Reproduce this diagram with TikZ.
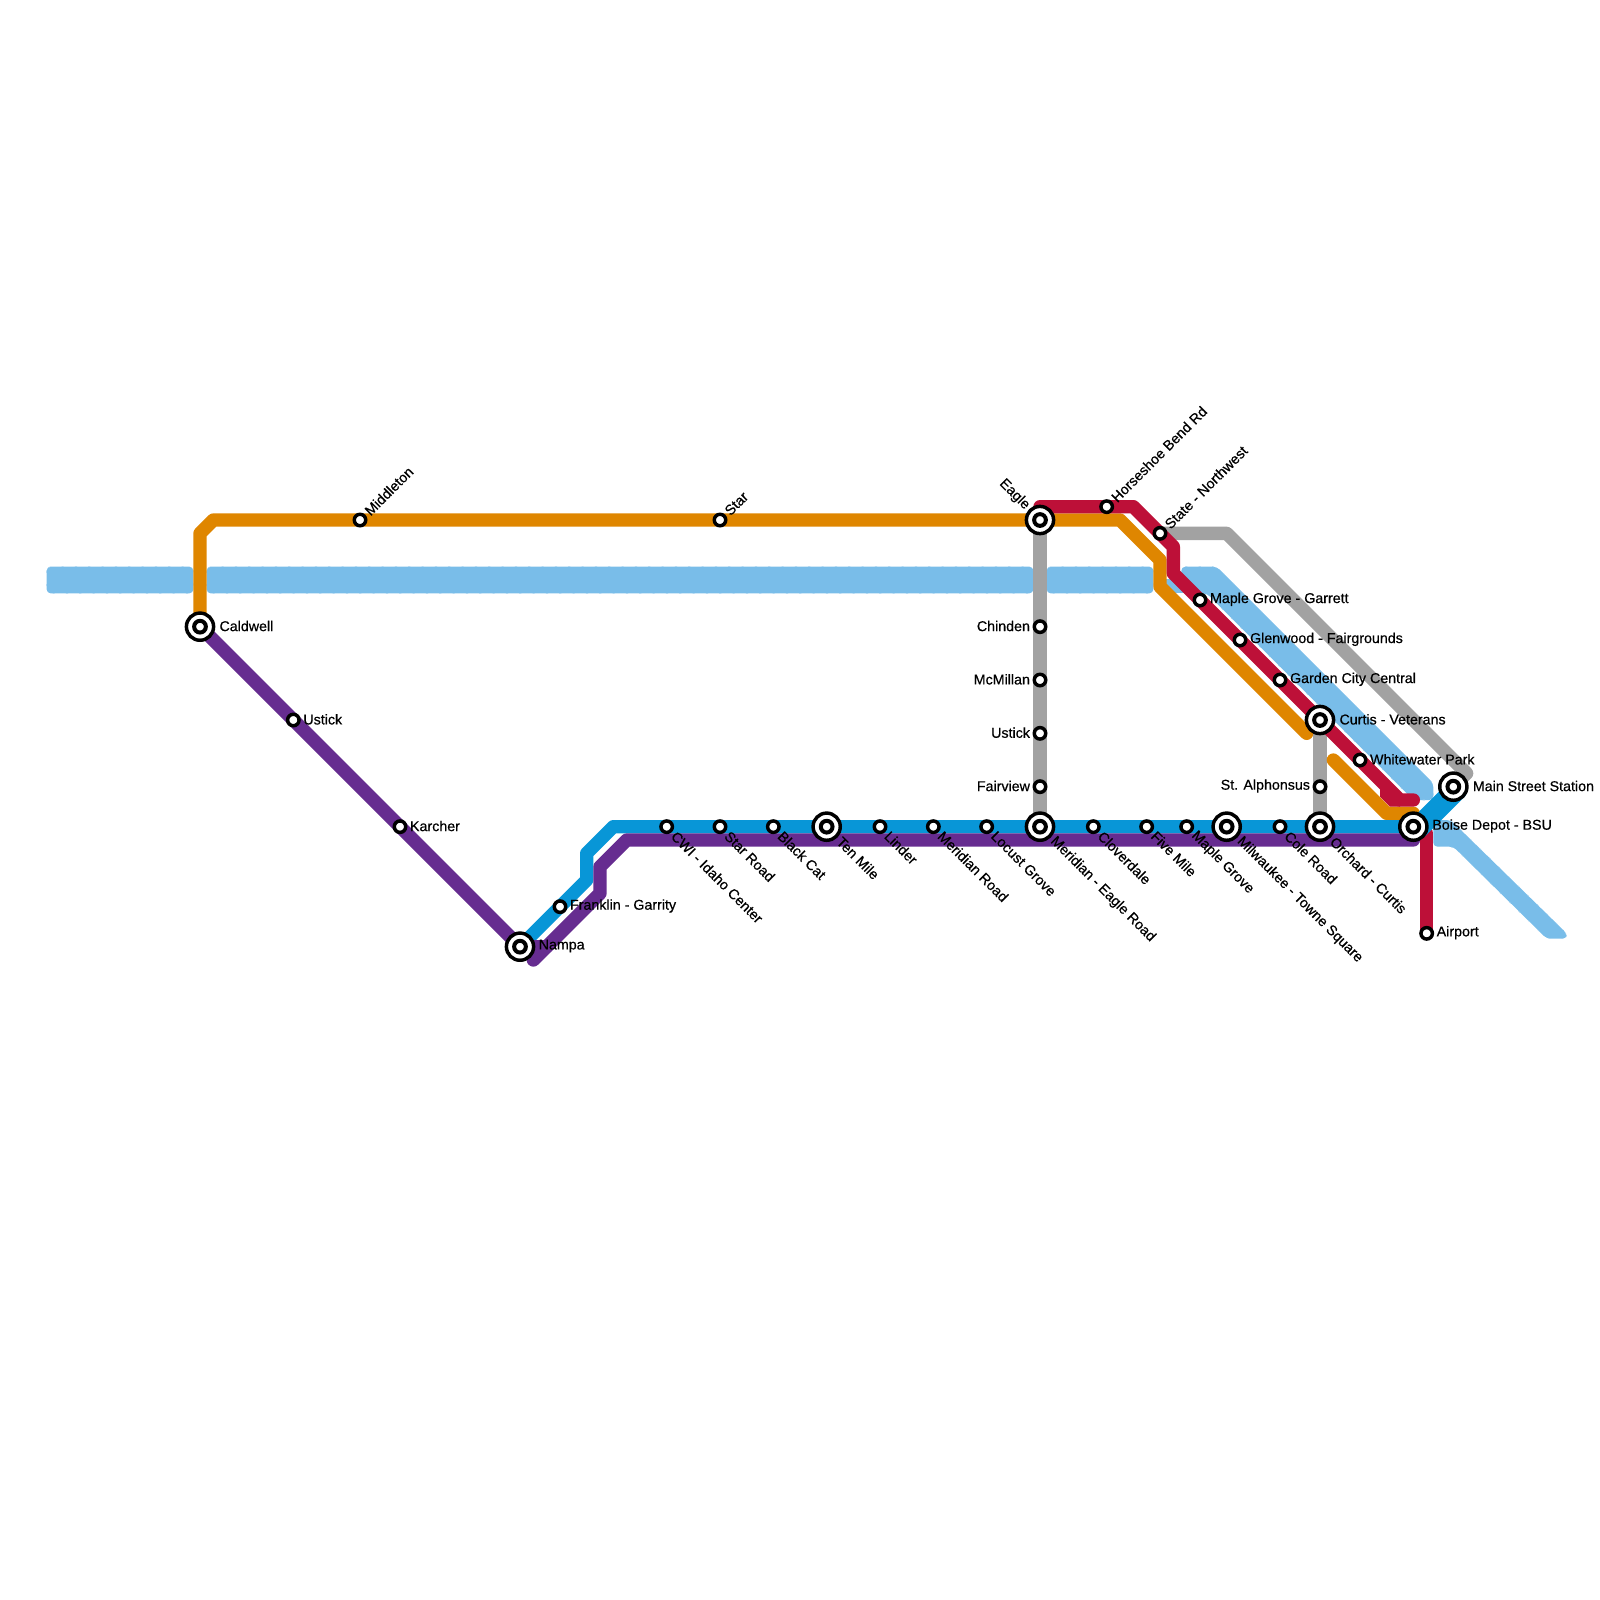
\documentclass[tikz,border=0pt]{standalone}
\usepackage{fontspec}
\newfontfamily\stnfont[FakeBold=0.5]{Liberation Sans}
\usetikzlibrary{backgrounds}
\definecolor{cblue}{HTML}{0896D7}
\definecolor{corange}{HTML}{DF8600}
\definecolor{cpurple}{HTML}{662C90}
\definecolor{cred}{HTML}{BD1038}
\definecolor{cgray}{HTML}{A2A2A2}
\definecolor{clight}{HTML}{79BDE9}
\tikzset{
  stop/.style={circle,draw=black,fill=white,line width=.13cm,minimum size=.43cm,inner sep=0pt},
  bigstop/.style={circle,draw=black,fill=white,line width=.13cm,minimum size=1.02cm,inner sep=0pt,
    path picture={\draw[black,line width=.15cm] (path picture bounding box.center) circle (.22cm);}},
  route/.style={line width=.5cm,line join=round,line cap=round},
  lightroute/.style={fill=clight,draw=clight!70!white,line width=.02cm,dash pattern=on .08cm off .42cm,rounded corners=.15cm},
  txt/.style={font=\stnfont\fontsize{15.2}{16}\selectfont,inner sep=.09cm,text=black},
  txtE/.style={txt,anchor=west,yshift=.025cm},
  txtW/.style={txt,anchor=east,yshift=.025cm},
  txtSE/.style={txt,anchor=west,rotate=-45},
  txtNE/.style={txt,anchor=west,rotate=45},
  txtNW/.style={txt,anchor=east,rotate=-45}
}
\begin{document}
\begin{tikzpicture}[x=5mm,y=-5mm]
\useasboundingbox (0,0) rectangle (120,120);

% stations, west end
\node[bigstop] (caldwell) at (15,47) {};
\node[txtE,inner sep=.15cm] (caldwell-t) at (caldwell.east) {Caldwell};
\node[stop] (ustickW) at (22,54) {};
\node[txtE] (ustickW-t) at (ustickW.east) {Ustick};
\node[stop] (karcher) at (30,62) {};
\node[txtE] (karcher-t) at (karcher.east) {Karcher};
\node[bigstop] (nampa) at (39,71) {};
\node[txtE,inner sep=.12cm] (nampa-t) at (nampa.east) {Nampa};
\node[stop] (franklin) at (42,68) {};
\node[txtE] (franklin-t) at (franklin.east) {Franklin - Garrity};
\node[stop] (middleton) at (27,39) {};
\node[txtNE] (middleton-t) at (middleton.45) {Middleton};
\node[stop] (star) at (54,39) {};
\node[txtNE] (star-t) at (star.45) {Star};

% stations along the main line
\node[stop] (cwi) at (50,62) {};
\node[txtSE] (cwi-t) at (cwi.-45) {CWI - Idaho Center};
\node[stop] (starrd) at (54,62) {};
\node[txtSE] (starrd-t) at (starrd.-45) {Star Road};
\node[stop] (blackcat) at (58,62) {};
\node[txtSE] (blackcat-t) at (blackcat.-45) {Black Cat};
\node[bigstop] (tenmile) at (62,62) {};
\node[txtSE] (tenmile-t) at (tenmile.-45) {Ten Mile};
\node[stop] (linder) at (66,62) {};
\node[txtSE] (linder-t) at (linder.-45) {Linder};
\node[stop] (meridianrd) at (70,62) {};
\node[txtSE] (meridianrd-t) at (meridianrd.-45) {Meridian Road};
\node[stop] (locust) at (74,62) {};
\node[txtSE] (locust-t) at (locust.-45) {Locust Grove};
\node[bigstop] (meridian) at (78,62) {};
\node[txtSE] (meridian-t) at (meridian.-45) {Meridian - Eagle Road};
\node[stop] (cloverdale) at (82,62) {};
\node[txtSE] (cloverdale-t) at (cloverdale.-45) {Cloverdale};
\node[stop] (fivemile) at (86,62) {};
\node[txtSE] (fivemile-t) at (fivemile.-45) {Five Mile};
\node[stop] (maplegrove) at (89,62) {};
\node[txtSE] (maplegrove-t) at (maplegrove.-45) {Maple Grove};
\node[bigstop] (milwaukee) at (92,62) {};
\node[txtSE] (milwaukee-t) at (milwaukee.-45) {Milwaukee - Towne Square};
\node[stop] (cole) at (96,62) {};
\node[txtSE] (cole-t) at (cole.-45) {Cole Road};
\node[bigstop] (orchard) at (99,62) {};
\node[txtSE] (orchard-t) at (orchard.-45) {Orchard - Curtis};
\node[bigstop] (depot) at (106,62) {};
\node[txtE,inner sep=.13cm] (depot-t) at (depot.east) {Boise Depot - BSU};

% stations on the north side
\node[bigstop] (eagle) at (78,39) {};
\node[txtNW] (eagle-t) at (eagle.135) {Eagle};
\node[stop] (chinden) at (78,47) {};
\node[txtW] (chinden-t) at (chinden.west) {Chinden};
\node[stop] (mcmillan) at (78,51) {};
\node[txtW] (mcmillan-t) at (mcmillan.west) {McMillan};
\node[stop] (ustickN) at (78,55) {};
\node[txtW] (ustickN-t) at (ustickN.west) {Ustick};
\node[stop] (fairview) at (78,59) {};
\node[txtW] (fairview-t) at (fairview.west) {Fairview};
\node[stop] (horseshoe) at (83,38) {};
\node[txtNE] (horseshoe-t) at (horseshoe.45) {Horseshoe Bend Rd};
\node[stop] (state) at (87,40) {};
\node[txtNE] (state-t) at (state.45) {State - Northwest};
\node[stop] (garrett) at (90,45) {};
\node[txtE] (garrett-t) at (garrett.east) {Maple Grove - Garrett};
\node[stop] (glenwood) at (93,48) {};
\node[txtE] (glenwood-t) at (glenwood.east) {Glenwood - Fairgrounds};
\node[stop] (garden) at (96,51) {};
\node[txtE] (garden-t) at (garden.east) {Garden City Central};
\node[bigstop] (curtis) at (99,54) {};
\node[txtE,inner sep=.15cm] (curtis-t) at (curtis.east) {Curtis - Veterans};
\node[stop] (whitewater) at (102,57) {};
\node[txtE] (whitewater-t) at (whitewater.east) {Whitewater Park};
\node[stop] (alphonsus) at (99,59) {};
\node[txtW] (alphonsus-t) at (alphonsus.west) {St. Alphonsus};
\node[bigstop] (mainst) at (109,59) {};
\node[txtE,inner sep=.15cm] (mainst-t) at (mainst.east) {Main Street Station};
\node[stop] (airport) at (107,70) {};
\node[txtE] (airport-t) at (airport.east) {Airport};

\begin{scope}[on background layer]
% light blue line
\draw[lightroute] (3.5,42.5) rectangle (14.5,44.5);
\draw[lightroute] (15.5,42.5) rectangle (77.5,44.5);
\draw[lightroute] (78.5,42.5) rectangle (86.5,44.5);
\fill[clight] (87.3,43.4) rectangle (88.8,44.5);
\draw[lightroute] (88.6,42.5)--(91.25,42.5)--(107.5,58.75)--(107.5,60)--(106,60)--(90.5,44.5)--(88.6,44.5)--cycle;
\draw[lightroute] (107.5,61.5)--(108.8,61.5)--(117.5,70)--(117.5,70.4)--(116,70.4)--(109,63.5)--(107.5,63.5)--cycle;

% gray
\draw[route,cgray] (eagle.center)--(meridian.center);
\draw[route,cgray] (state.center)--(92,40)--(110,58)--(mainst.center);
\draw[route,cgray] (curtis.center)--(orchard.center);

% orange
\draw[route,corange] (caldwell.center)--(15,40)--(16,39)--(84,39)--(87,42)--(87,44)--(98,55);
\draw[route,corange] (100,57)--(104,61)--(106,61);

% red
\draw[route,cred] (eagle.center)--(78,38)--(85,38)--(88,41)--(88,43)--(104,59)--(105,60)--(106,60);
\fill[cred] (104,58.6)--(103.5,59.1)--(103.5,59.75)--(104.25,60.5)--(105,60.5)--(105,60)--cycle;
\draw[route,cred] (107,62.5)--(airport.center);

% blue
\draw[route,cblue] (nampa.center)--(44,66)--(44,64)--(46,62)--(depot.center)--(mainst.center);
\draw[route,cblue] (106.5,62.4)--(109.5,59.4);

% purple
\draw[route,cpurple] (caldwell.center)--(nampa.center)--(41,71);
\draw[route,cpurple] (40,72)--(45,67)--(45,65)--(47,63)--(106,63);
\end{scope}
\end{tikzpicture}
\end{document}
